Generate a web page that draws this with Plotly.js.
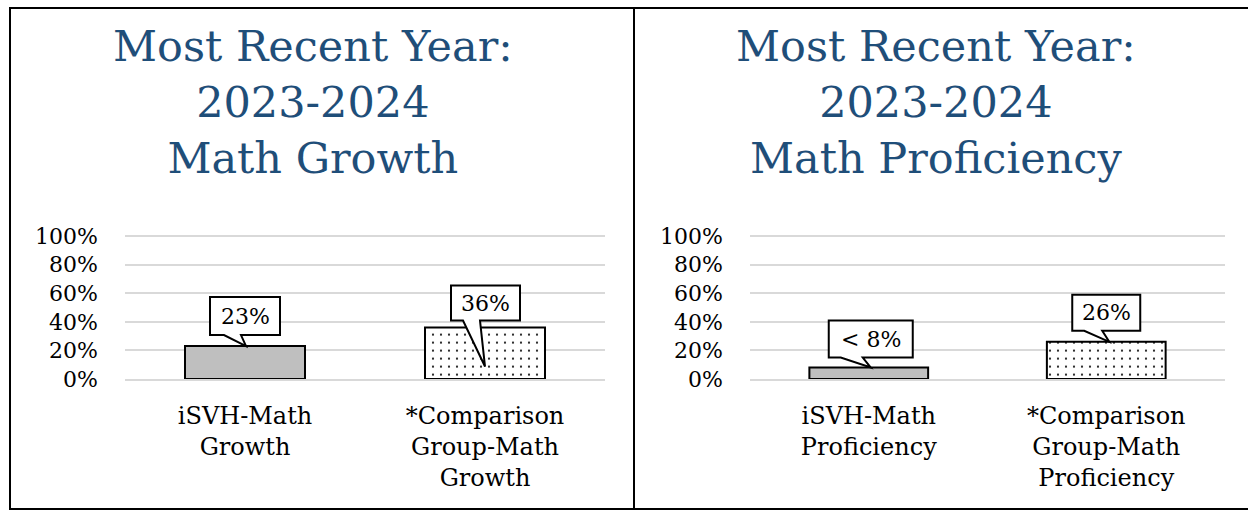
<!DOCTYPE html>
<html>
<head>
<meta charset="utf-8">
<script src="https://cdn.plot.ly/plotly-3.0.1.min.js"></script>
<style>
html,body{margin:0;padding:0;background:#fff;}
#chart{width:1248px;height:512px;}
</style>
</head>
<body>
<div id="chart"></div>
<script>
// ---- data ----
const titleGrowth = "Most Recent Year:<br>2023-2024<br>Math Growth";
const titleProf = "Most Recent Year:<br>2023-2024<br>Math Proficiency";
const growthCategories = ["iSVH-Math<br>Growth", "*Comparison<br>Group-Math<br>Growth"];
const growthValues = [23, 36];
const growthLabels = ["23%", "36%"];
const profCategories = ["iSVH-Math<br>Proficiency", "*Comparison<br>Group-Math<br>Proficiency"];
const profValues = [8, 26];
const profLabels = ["< 8%", "26%"];
const yTicks = [0, 20, 40, 60, 80, 100];
const yTickText = ["0%", "20%", "40%", "60%", "80%", "100%"];

// ---- styling ----
const W = 1248, H = 512;
const FONT = "DejaVu Serif";
const TITLE_COLOR = "#1f4e79";
const px = v => v / W;
const py = v => 1 - v / H;

// callout geometry in pixels relative to (bar centre, bar top): box l,r,bottom,top ; notch l,r ; tip x,y
const calloutGeom = [
  [[-35, 35, 11, 49, -21, -4, 1, 0], [-34, 35, 7, 42, -22, -5, 0, -39]],
  [[-40, 44, 10, 47, -28, -6, 2, 0], [-34, 34, 11, 47, -22, -4, 3, 0]]
];

function barTraces(cats, vals, xa, ya) {
  return [
    {type: "bar", x: [cats[0]], y: [vals[0]], xaxis: xa, yaxis: ya, width: 0.5,
     marker: {color: "#bfbfbf", line: {color: "#000", width: 2}}, hoverinfo: "none"},
    {type: "bar", x: [cats[1]], y: [vals[1]], xaxis: xa, yaxis: ya, width: 0.5,
     marker: {color: "#ffffff", line: {color: "#000", width: 2},
              pattern: {shape: ".", fgcolor: "#000", bgcolor: "#fff", size: 8, solidity: 0.06}},
     hoverinfo: "none"}
  ];
}

const data = [
  ...barTraces(growthCategories, growthValues, "x", "y"),
  ...barTraces(profCategories, profValues, "x2", "y2")
];

function callouts(vals, labels, geoms, xref, yref) {
  const shapes = [], anns = [];
  vals.forEach((v, i) => {
    const [l, r, b, t, nl, nr, tx, ty] = geoms[i];
    shapes.push({
      type: "path", xref: xref, yref: yref, xsizemode: "pixel", ysizemode: "pixel",
      xanchor: i, yanchor: v,
      path: `M${l},${b} L${nl},${b} L${tx},${ty} L${nr},${b} L${r},${b} L${r},${t} L${l},${t} Z`,
      fillcolor: "#fff", line: {color: "#000", width: 2}, layer: "above"
    });
    anns.push({
      xref: xref, yref: yref, x: i, y: v, xshift: (l + r) / 2, yshift: (b + t) / 2,
      text: labels[i], showarrow: false, xanchor: "center", yanchor: "middle",
      font: {family: FONT, size: 22, color: "#000"}
    });
  });
  return {shapes, anns};
}

const cg = callouts(growthValues, growthLabels, calloutGeom[0], "x", "y");
const cp = callouts(profValues, profLabels, calloutGeom[1], "x2", "y2");

const yaxisBase = {
  range: [0, 101], tickmode: "array", tickvals: yTicks, ticktext: yTickText, showgrid: true,
  gridcolor: "#d9d9d9", gridwidth: 2, zeroline: false, showline: false,
  ticks: "", ticklabelstandoff: 26, fixedrange: true,
  tickfont: {family: FONT, size: 22, color: "#000"}
};
const xaxisBase = {
  type: "category", range: [-0.5, 1.5], showgrid: false, zeroline: false,
  showline: true, linecolor: "#d9d9d9", linewidth: 2, ticks: "",
  ticklabelstandoff: 14, fixedrange: true,
  tickfont: {family: FONT, size: 24, color: "#000"}
};

const layout = {
  width: W, height: H, margin: {l: 0, r: 0, t: 0, b: 0},
  paper_bgcolor: "#fff", plot_bgcolor: "rgba(0,0,0,0)",
  showlegend: false, barmode: "overlay",
  xaxis: Object.assign({}, xaxisBase, {domain: [px(125), px(605)], anchor: "y"}),
  yaxis: Object.assign({}, yaxisBase, {domain: [py(379), py(234.6)], anchor: "x"}),
  xaxis2: Object.assign({}, xaxisBase, {domain: [px(750), px(1225)], anchor: "y2"}),
  yaxis2: Object.assign({}, yaxisBase, {domain: [py(379), py(234.6)], anchor: "x2"}),
  shapes: [
    {type: "rect", xref: "paper", yref: "paper", x0: px(10), x1: px(634), y0: py(509), y1: py(8),
     line: {color: "#000", width: 2}, layer: "above"},
    {type: "rect", xref: "paper", yref: "paper", x0: px(634), x1: px(1252), y0: py(509), y1: py(8),
     line: {color: "#000", width: 2}, layer: "above"},
    ...cg.shapes, ...cp.shapes
  ],
  annotations: [
    {xref: "paper", yref: "paper", x: px(313), y: py(102), text: titleGrowth, showarrow: false,
     xanchor: "center", yanchor: "middle", font: {family: FONT, size: 43, color: TITLE_COLOR}},
    {xref: "paper", yref: "paper", x: px(936), y: py(102), text: titleProf, showarrow: false,
     xanchor: "center", yanchor: "middle", font: {family: FONT, size: 43, color: TITLE_COLOR}},
    ...cg.anns, ...cp.anns
  ]
};

Plotly.newPlot("chart", data, layout, {displayModeBar: false, staticPlot: true});
</script>
</body>
</html>
